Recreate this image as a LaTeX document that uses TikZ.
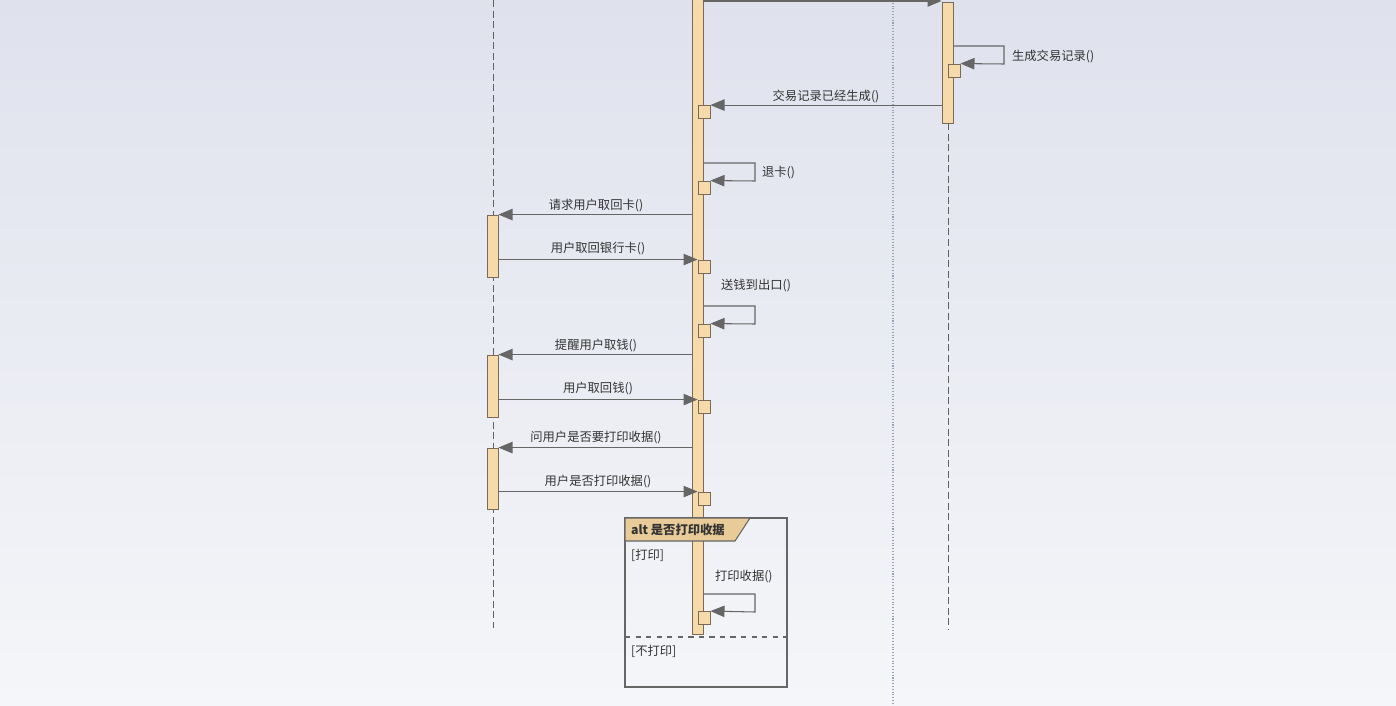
\documentclass[tikz,border=0pt]{standalone}
\usepackage{fontspec}
\newfontfamily\cjk{Noto Sans CJK SC}
\usetikzlibrary{arrows.meta}
\definecolor{barfill}{HTML}{F7DAAA}
\definecolor{barline}{HTML}{7A6A5A}
\definecolor{msgline}{HTML}{666666}
\definecolor{tabfill}{HTML}{E8CB98}
\definecolor{bgtop}{HTML}{DFE2ED}
\definecolor{bgbot}{HTML}{F5F6F9}
\definecolor{pageline}{HTML}{98A2B6}

\begin{document}
\begin{tikzpicture}[x=0.02cm,y=-0.02cm,
  font=\cjk\fontsize{7}{8}\selectfont, text=black!80,
  actbar/.style={draw=barline,fill=barfill,minimum width=0.22cm,inner sep=0pt,line width=0.5pt},
  retbox/.style={draw=barline,fill=barfill,minimum width=0.24cm,minimum height=0.26cm,inner sep=0pt,line width=0.5pt},
  msg/.style={draw=msgline,line width=0.6pt,-{Triangle[length=8pt,width=6.5pt]}},
  lifeline/.style={draw=black!62,line width=0.5pt,dash pattern=on 4pt off 2pt},
  lbl/.style={inner sep=1pt}]
  \useasboundingbox (0,0) rectangle (1396,706);
  \clip (0,0) rectangle (1396,706);
  \shade[top color=bgtop,bottom color=bgbot] (0,0) rectangle (1396,706);
  % lifelines
  \draw[lifeline] (493,0) -- (493,628);
  \draw[densely dotted,color=pageline,line width=0.6pt] (893,0) -- (893,706);
  \node[actbar,minimum height=12.88cm] (atm) at (697.5,312) {};
  \node[actbar,minimum height=2.42cm] (bank) at (947.5,62.5) {};
  \draw[lifeline] (948,123) -- (948,630);
  \node[actbar,minimum height=1.24cm] (userA) at (492.5,246) {};
  \node[actbar,minimum height=1.24cm] (userB) at (492.5,386) {};
  \node[actbar,minimum height=1.22cm] (userC) at (492.5,478.5) {};

  \draw[msg] (atm.east |- 0,1) -- (bank.west |- 0,1);
    % 生成交易记录
    \node[retbox] (b1) at (954,70.5) {};
    \draw[msg] (bank.east |- 0,46) -- (1004,46) -- (1004,64) -- (b1.north east);
    \draw (1010,56) node[lbl,right] {生成交易记录()};
  \node[retbox] (a1) at (704,112) {};
  \draw[msg] (bank.west |- a1.north) -- (a1.north east);
  \draw (826,96) node[lbl] {交易记录已经生成()};
    % 退卡
    \node[retbox] (a2) at (704,187.5) {};
    \draw[msg] (atm.east |- 0,163) -- (755,163) -- (755,181) -- (a2.north east);
    \draw (760,173) node[lbl,right] {退卡()};
  \draw[msg] (atm.west |- userA.north) -- (userA.north east);
  \draw (596,206) node[lbl] {请求用户取回卡()};
  \node[retbox] (a3) at (704,266.5) {};
  \draw[msg] (userA.east |- a3.north) -- (a3.north west);
  \draw (598,249) node[lbl] {用户取回银行卡()};
    % 送钱
    \node[retbox] (a4) at (704,330.5) {};
    \draw[msg] (atm.east |- 0,306) -- (755,306) -- (755,324) -- (a4.north east);
    \draw (719,286) node[lbl,right] {送钱到出口()};
  \draw[msg] (atm.west |- userB.north) -- (userB.north east);
  \draw (596,346) node[lbl] {提醒用户取钱()};
  \node[retbox] (a5) at (704,406.5) {};
  \draw[msg] (userB.east |- a5.north) -- (a5.north west);
  \draw (598,389) node[lbl] {用户取回钱()};
  \draw[msg] (atm.west |- userC.north) -- (userC.north east);
  \draw (596,438) node[lbl] {问用户是否要打印收据()};
  \node[retbox] (a6) at (704,498.5) {};
  \draw[msg] (userC.east |- a6.north) -- (a6.north west);
  \draw (598,482) node[lbl] {用户是否打印收据()};

  % alt frame
  \draw[draw=black!60,line width=0.8pt] (625,518) rectangle (787,687);
  \draw[draw=black!60,fill=tabfill,line width=0.6pt] (625,518) -- (750,518) -- (735,541) -- (625,541) -- cycle;
  \draw (629,529.5) node[lbl,right] {\bfseries alt 是否打印收据};
  \draw (629,555) node[lbl,right] {[打印]};
  \node[retbox] (a7) at (704,618) {};
  \draw[msg] (atm.east |- 0,594) -- (755,594) -- (755,612) -- (a7.north east);
  \draw (713,577) node[lbl,right] {打印收据()};
  \draw[draw=black!60,dashed,line width=0.6pt] (625,637) -- (787,637);
  \draw (629,651) node[lbl,right] {[不打印]};
  %\draw (706,700) node {end};
\end{tikzpicture}
\end{document}
